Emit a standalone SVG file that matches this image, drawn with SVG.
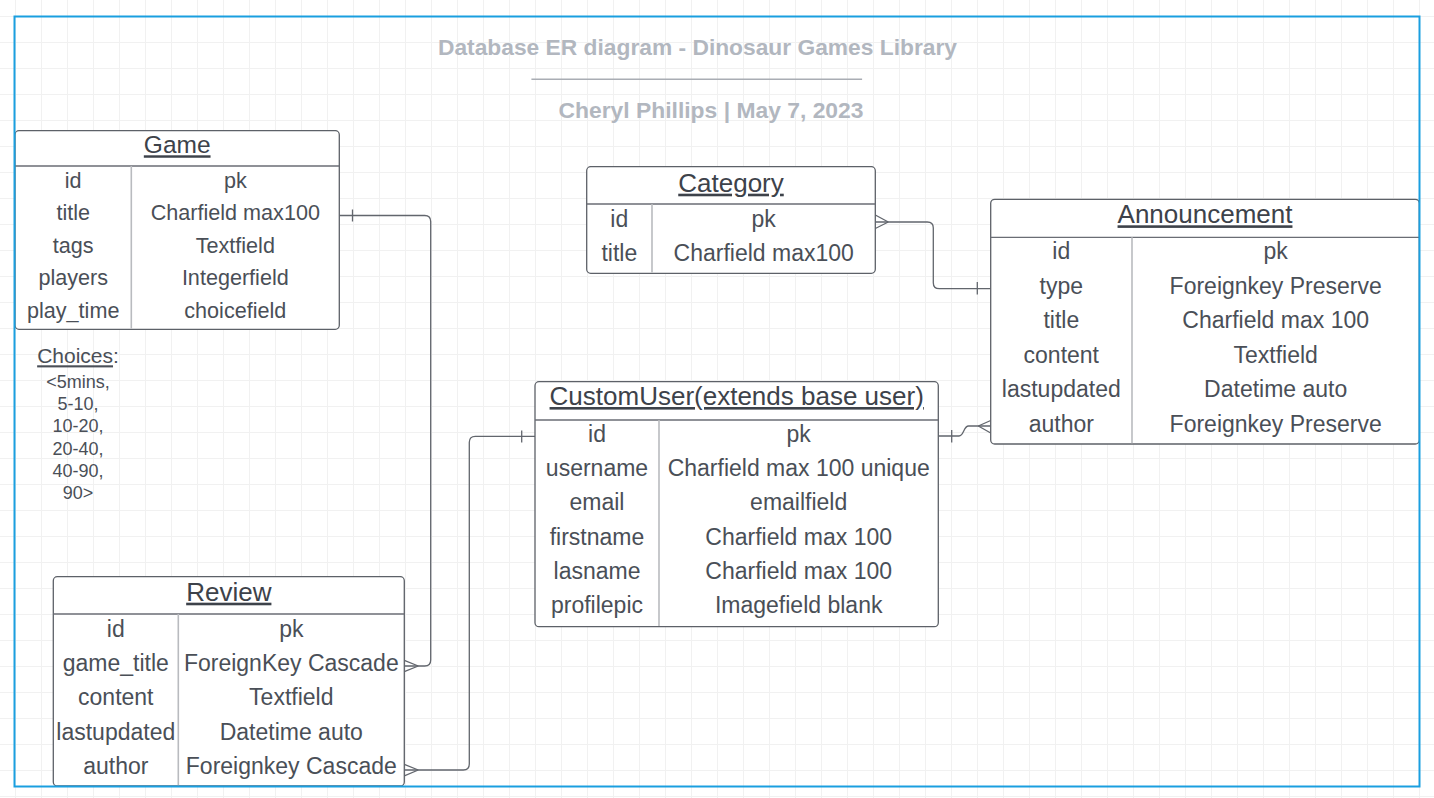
<svg xmlns="http://www.w3.org/2000/svg" width="1434" height="798" viewBox="0 0 1434 798">
<style>
text{font-family:"Liberation Sans",Arial,sans-serif;text-anchor:middle;fill:#4a4f57}
.hd{fill:#3d424a;text-decoration:underline}
.box{fill:#ffffff;stroke:#5d6168;stroke-width:1.3}
.hl{stroke:#6a6d74;stroke-width:1.3}
.div{stroke:#b9bbbf;stroke-width:1.6}
.t{font-size:23px}
.g{font-size:21.6px}
.cn{fill:none;stroke:#62666d;stroke-width:1.3}
.ttl{font-weight:bold;fill:#b2b7bf;font-size:22px}
</style>
<defs>
<pattern id="grid" x="15" y="16" width="26" height="26" patternUnits="userSpaceOnUse">
<path d="M0.5 0V26M0 0.5H26" fill="none" stroke="#f1f1f1" stroke-width="1"/>
</pattern>
</defs>
<rect width="1434" height="798" fill="#ffffff"/>
<rect width="1434" height="798" fill="url(#grid)"/>

<g id="title">
<text class="ttl" x="697.5" y="54.8" textLength="519" lengthAdjust="spacingAndGlyphs">Database ER diagram - Dinosaur Games Library</text>
<path d="M531.4 79.3H862.1" stroke="#a9adb4" stroke-width="1.5"/>
<text class="ttl" x="711" y="118.3" textLength="305" lengthAdjust="spacingAndGlyphs">Cheryl Phillips | May 7, 2023</text>
</g>

<g id="connectors">
<path class="cn" d="M339.3 215.5H424.7Q430.7 215.5 430.7 221.5V660Q430.7 666 424.7 666H404.3"/>
<path class="cn" d="M352.5 209.5V221.5M418.3 666L404.3 660.3M418.3 666L404.3 671.7"/>
<path class="cn" d="M875.3 222H927.3Q933.3 222 933.3 228V282.7Q933.3 288.7 939.3 288.7H990.7"/>
<path class="cn" d="M977.3 282V294.5M888.3 222L875.3 215M888.3 222L875.3 228.5"/>
<path class="cn" d="M404.3 770H463.3Q469.3 770 469.3 764V442.3Q469.3 436.3 475.3 436.3H535"/>
<path class="cn" d="M521.7 430.5V442.5M418.3 770L404.3 764.3M418.3 770L404.3 775.8"/>
<path class="cn" d="M938.3 436H959C964 436 963.5 426 968.5 426H990.7"/>
<path class="cn" d="M951.7 430V442.5M978.3 426L990.7 420.5M978.3 426L990.7 433"/>
</g>

<g id="game">
<rect class="box" x="15" y="130.7" width="324.3" height="198.6" rx="4"/>
<line class="hl" x1="15" y1="166" x2="339.3" y2="166"/>
<line class="div" x1="131.3" y1="166" x2="131.3" y2="328.6"/>
<text class="hd" x="177.2" y="153.3" font-size="24.5">Game</text>
<g class="g">
<text x="73.2" y="187.7">id</text><text x="235.3" y="187.7">pk</text>
<text x="73.2" y="220.2">title</text><text x="235.3" y="220.2">Charfield max100</text>
<text x="73.2" y="252.8">tags</text><text x="235.3" y="252.8">Textfield</text>
<text x="73.2" y="285.3">players</text><text x="235.3" y="285.3">Integerfield</text>
<text x="73.2" y="317.8">play_time</text><text x="235.3" y="317.8">choicefield</text>
</g>
</g>

<g id="choices">
<text x="78" y="363.3" font-size="21"><tspan text-decoration="underline">Choices</tspan>:</text>
<g font-size="18">
<text x="78" y="388">&lt;5mins,</text>
<text x="78" y="410">5-10,</text>
<text x="78" y="432">10-20,</text>
<text x="78" y="454.5">20-40,</text>
<text x="78" y="477">40-90,</text>
<text x="78" y="499">90&gt;</text>
</g>
</g>

<g id="category">
<rect class="box" x="586.7" y="166.7" width="288.6" height="106.6" rx="4"/>
<line class="hl" x1="586.7" y1="204" x2="875.3" y2="204"/>
<line class="div" x1="652" y1="204" x2="652" y2="272.6"/>
<text class="hd" x="731" y="191.7" font-size="26">Category</text>
<g class="t">
<text x="619.3" y="226.7">id</text><text x="763.7" y="226.7">pk</text>
<text x="619.3" y="260.7">title</text><text x="763.7" y="260.7">Charfield max100</text>
</g>
</g>

<g id="announcement">
<rect class="box" x="990.7" y="199.3" width="428.6" height="244.7" rx="4"/>
<line class="hl" x1="990.7" y1="237.3" x2="1419.3" y2="237.3"/>
<line class="div" x1="1132" y1="237.3" x2="1132" y2="443.3"/>
<text class="hd" x="1205" y="223.3" font-size="26">Announcement</text>
<g class="t">
<text x="1061.3" y="259">id</text><text x="1275.7" y="259">pk</text>
<text x="1061.3" y="293.5">type</text><text x="1275.7" y="293.5">Foreignkey Preserve</text>
<text x="1061.3" y="328">title</text><text x="1275.7" y="328">Charfield max 100</text>
<text x="1061.3" y="362.5">content</text><text x="1275.7" y="362.5">Textfield</text>
<text x="1061.3" y="397">lastupdated</text><text x="1275.7" y="397">Datetime auto</text>
<text x="1061.3" y="431.5">author</text><text x="1275.7" y="431.5">Foreignkey Preserve</text>
</g>
</g>

<g id="customuser">
<rect class="box" x="535" y="381.7" width="403.3" height="245" rx="4"/>
<line class="hl" x1="535" y1="420" x2="938.3" y2="420"/>
<line class="div" x1="659" y1="420" x2="659" y2="626"/>
<text class="hd" x="736.7" y="405" font-size="26">CustomUser(extends base user)</text>
<g class="t">
<text x="597" y="441.7">id</text><text x="798.7" y="441.7">pk</text>
<text x="597" y="476">username</text><text x="798.7" y="476">Charfield max 100 unique</text>
<text x="597" y="510.3">email</text><text x="798.7" y="510.3">emailfield</text>
<text x="597" y="544.7">firstname</text><text x="798.7" y="544.7">Charfield max 100</text>
<text x="597" y="579">lasname</text><text x="798.7" y="579">Charfield max 100</text>
<text x="597" y="613.3">profilepic</text><text x="798.7" y="613.3">Imagefield blank</text>
</g>
</g>

<g id="review">
<rect class="box" x="53.3" y="576.7" width="351" height="209.3" rx="4"/>
<line class="hl" x1="53.3" y1="614" x2="404.3" y2="614"/>
<line class="div" x1="178.3" y1="614" x2="178.3" y2="785.3"/>
<text class="hd" x="228.8" y="600.7" font-size="26">Review</text>
<g class="t">
<text x="115.8" y="636.7">id</text><text x="291.3" y="636.7">pk</text>
<text x="115.8" y="671">game_title</text><text x="291.3" y="671">ForeignKey Cascade</text>
<text x="115.8" y="705.3">content</text><text x="291.3" y="705.3">Textfield</text>
<text x="115.8" y="739.7">lastupdated</text><text x="291.3" y="739.7">Datetime auto</text>
<text x="115.8" y="774">author</text><text x="291.3" y="774">Foreignkey Cascade</text>
</g>
</g>

<rect id="frame" x="14.5" y="16.5" width="1405" height="770" fill="none" stroke="#1a9fe0" stroke-width="2"/>
</svg>
